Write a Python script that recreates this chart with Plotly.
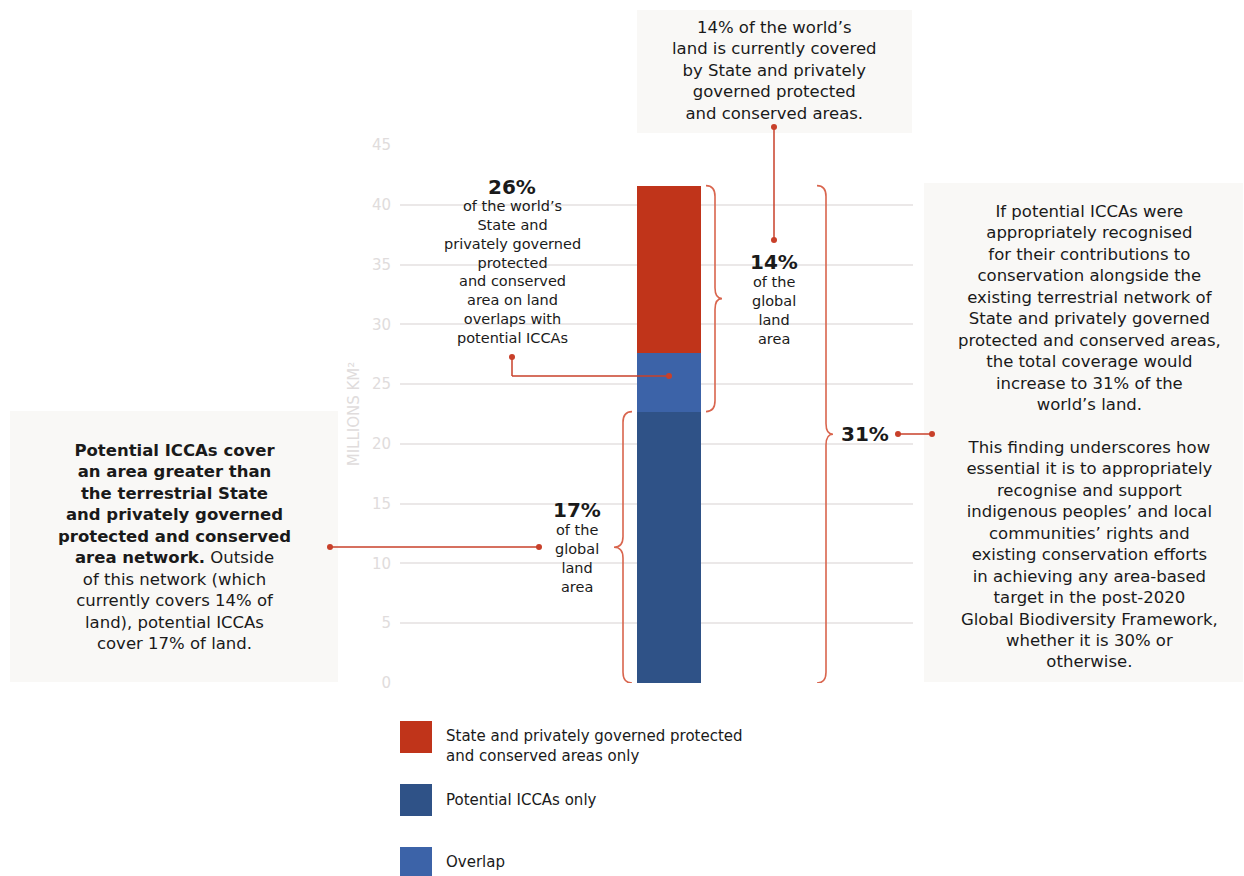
import plotly.graph_objects as go

# ---- data ----
series_names = ["Potential ICCAs only", "Overlap", "State and privately governed protected and conserved areas only"]
series_values = [22.7, 4.9, 14.0]   # millions km², stacked bottom -> top
series_colors = ["#2f5287", "#3c63a8", "#c0341a"]
y_ticks = [0, 5, 10, 15, 20, 25, 30, 35, 40, 45]

FONT = "DejaVu Sans"
W, H = 1244, 876
L, R, T, B = 400, 913, 145, 683

def px(x):
    return (x - L) / (R - L)

def py(y):
    return (B - y) / (B - T)

fig = go.Figure()
for name, val, col in zip(series_names, series_values, series_colors):
    fig.add_trace(go.Bar(x=[0], y=[val], name=name, marker=dict(color=col, line=dict(width=0)),
                         width=1, showlegend=False, hoverinfo="name+y"))

shapes = []
annotations = []

BOX = "#f9f8f6"
LINE = "#c8402a"
BRACE = "#d9654e"

# boxes
for x0, y0, x1, y1 in [(637, 10, 912, 133), (10, 411, 338, 682), (924, 183, 1243, 682)]:
    shapes.append(dict(type="rect", xref="paper", yref="paper", x0=px(x0), x1=px(x1), y0=py(y1), y1=py(y0),
                       fillcolor=BOX, line=dict(width=0), layer="below"))

cum = [0]
for v in series_values:
    cum.append(cum[-1] + v)

def brace(xs, xv, xt, y0, y1, r=0.9):
    ym = (y0 + y1) / 2
    a, b, c = px(xs), px(xv), px(xt)
    return (f"M {a},{y1} Q {b},{y1} {b},{y1 - r} L {b},{ym + r} Q {b},{ym} {c},{ym} "
            f"Q {b},{ym} {b},{ym - r} L {b},{y0 + r} Q {b},{y0} {a},{y0}")

# 14% brace (state total = overlap + state only), right side
shapes.append(dict(type="path", xref="paper", yref="y", path=brace(706, 715, 722, cum[1], cum[3]),
                   line=dict(color=BRACE, width=1.6)))
# 31% brace, right side
shapes.append(dict(type="path", xref="paper", yref="y", path=brace(817, 826, 833, cum[0], cum[3]),
                   line=dict(color=BRACE, width=1.6)))
# 17% brace, left side
shapes.append(dict(type="path", xref="paper", yref="y", path=brace(632, 623, 614, cum[0], cum[1]),
                   line=dict(color=BRACE, width=1.6)))

def seg(x0, y0, x1, y1):
    shapes.append(dict(type="line", xref="paper", yref="paper", x0=px(x0), y0=py(y0), x1=px(x1), y1=py(y1),
                       line=dict(color=LINE, width=1.5)))

def dot(x, y, r=3):
    shapes.append(dict(type="circle", xref="paper", yref="paper", x0=px(x - r), x1=px(x + r), y0=py(y + r),
                       y1=py(y - r), fillcolor=LINE, line=dict(width=0)))

# leaders
seg(512, 357, 512, 376); seg(512, 376, 669, 376); dot(512, 357); dot(669, 376)
seg(774, 127, 774, 240); dot(774, 127); dot(774, 240)
seg(330, 547, 539, 547); dot(330, 547); dot(539, 547)
seg(898, 434, 932, 434); dot(898, 434); dot(932, 434)

def text(x, y, s, size=16.5, color="#1a1a1a", anchor="middle", xanchor="center"):
    annotations.append(dict(xref="paper", yref="paper", x=px(x), y=py(y), text=s, showarrow=False,
                            xanchor=xanchor, yanchor=anchor, align="center",
                            font=dict(family=FONT, size=size, color=color)))

text(774, 71, "14% of the world’s<br>land is currently covered<br>by State and privately<br>governed protected<br>and conserved areas.")

text(174, 547, "<b>Potential ICCAs cover<br>an area greater than<br>the terrestrial State<br>and privately governed<br>protected and conserved<br>area network.</b> Outside<br>of this network (which<br>currently covers 14% of<br>land), potential ICCAs<br>cover 17% of land.")

text(1089, 436, "If potential ICCAs were<br>appropriately recognised<br>for their contributions to<br>conservation alongside the<br>existing terrestrial network of<br>State and privately governed<br>protected and conserved areas,<br>the total coverage would<br>increase to 31% of the<br>world’s land.<br> <br>This finding underscores how<br>essential it is to appropriately<br>recognise and support<br>indigenous peoples’ and local<br>communities’ rights and<br>existing conservation efforts<br>in achieving any area-based<br>target in the post-2020<br>Global Biodiversity Framework,<br>whether it is 30% or<br>otherwise.")

text(512, 187, "<b>26%</b>", 20)
text(512, 272, "of the world’s<br>State and<br>privately governed<br>protected<br>and conserved<br>area on land<br>overlaps with<br>potential ICCAs", 14.5)

text(774, 262, "<b>14%</b>", 20)
text(774, 310, "of the<br>global<br>land<br>area", 14.5)

text(577, 510, "<b>17%</b>", 20)
text(577, 558, "of the<br>global<br>land<br>area", 14.5)

text(865, 434, "<b>31%</b>", 20)

# legend (drawn manually)
leg_y = [721, 784, 847]
leg_text_y = [746, 800, 862]
leg_order = [2, 0, 1]
leg_labels = ["State and privately governed protected<br>and conserved areas only", "Potential ICCAs only", "Overlap"]
for yy, ty, idx, lab in zip(leg_y, leg_text_y, leg_order, leg_labels):
    shapes.append(dict(type="rect", xref="paper", yref="paper", x0=px(400), x1=px(432), y0=py(yy + 32), y1=py(yy),
                       fillcolor=series_colors[idx], line=dict(width=0)))
    annotations.append(dict(xref="paper", yref="paper", x=px(444), y=py(ty), text=lab, showarrow=False,
                            xanchor="left", yanchor="middle", align="left",
                            font=dict(family=FONT, size=15, color="#1a1a1a")))

fig.update_layout(
    width=W, height=H,
    margin=dict(l=L, r=W - R, t=T, b=H - B, pad=0),
    paper_bgcolor="white", plot_bgcolor="white",
    barmode="stack", showlegend=False,
    shapes=shapes, annotations=annotations,
    font=dict(family=FONT),
    xaxis=dict(range=[-269 / 64, 244 / 64], visible=False, fixedrange=True),
    yaxis=dict(range=[0, 45], tickvals=y_ticks, ticktext=[str(t) for t in y_ticks],
               showgrid=True, gridcolor="#ebe8e8", gridwidth=1.5, zeroline=False, showline=False,
               ticks="", ticklabelstandoff=8,
               tickfont=dict(family=FONT, size=15, color="#e0dcdc"),
               title=dict(text="MILLIONS KM²", standoff=8, font=dict(family=FONT, size=15, color="#e0dcdc"))),
)

fig.write_html("out.html", config={"displayModeBar": False},
               post_script="document.body.style.margin='0';document.body.style.padding='0';")
